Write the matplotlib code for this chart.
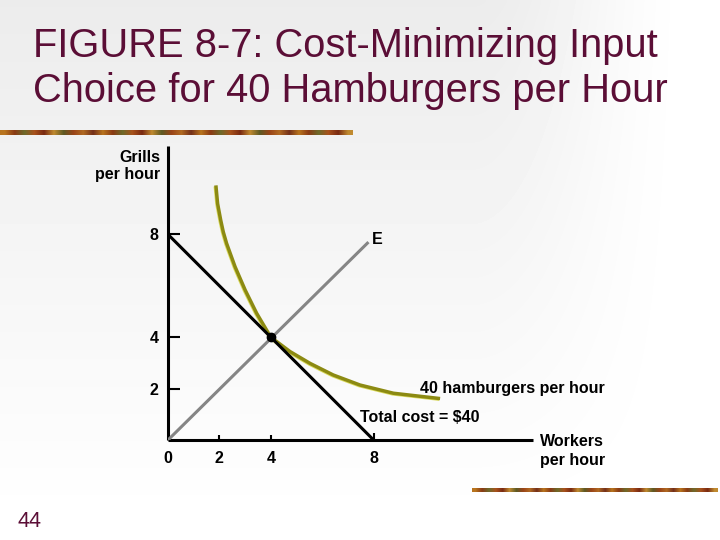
import numpy as np
import matplotlib
matplotlib.use("Agg")
import matplotlib.pyplot as plt
import matplotlib.transforms as mtransforms

plt.rcParams['font.family'] = ['Liberation Sans', 'DejaVu Sans']

# --- dados ---
titulo_linhas = ["FIGURE 8-7: Cost-Minimizing Input",
                 "Choice for 40 Hamburgers per Hour"]

# isoquanta de 40 hamburgers (trabalhadores, grelhas)
iso_x = [1.87, 1.93, 2.05, 2.15, 2.28, 2.61, 3.00, 3.45, 4.00, 4.75, 5.53, 6.43, 7.47, 8.77, 10.52]
iso_y = [9.84, 9.20, 8.56, 8.10, 7.65, 6.74, 5.84, 4.93, 4.00, 3.44, 2.98, 2.53, 2.14, 1.82, 1.62]

# reta de custo total = $40
custo_x = [0, 8]
custo_y = [8, 0]

# raio de expansao E
raio_x = [0, 7.8]
raio_y = [0, 7.7]

# ponto de minimo custo
ponto_x = [4]
ponto_y = [4]

y_ticks = [2, 4, 8]
x_ticks = [0, 2, 4, 8]

COR_TITULO = "#5b0e36"
COR_ISO = "#8c8a12"
COR_ISO_BRILHO = "#dada5c"
COR_RAIO = "#858585"
CORES_FAIXA = ["#b8741e", "#8a3a14", "#6e6a2a", "#a8521c", "#7a2a12",
               "#c08a30", "#5e5a24", "#9a4418", "#b06a22", "#74301a"]

fig = plt.figure(figsize=(7.2, 5.4), dpi=100)

# fundo em coordenadas de pixel
fundo = fig.add_axes([0, 0, 1, 1], zorder=0)
fundo.set_xlim(0, 720)
fundo.set_ylim(540, 0)
fundo.axis('off')

yy, xx = np.mgrid[0:540:4, 0:720:4]
ty = np.clip(yy / 520.0, 0, 1)
sx = np.clip((xx - 470) / 230.0, 0, 1)
tx = sx * sx * (3 - 2 * sx)
t = 1 - (1 - ty) * (1 - tx)
grad = 0.925 + 0.075 * t
fundo.imshow(grad, cmap='gray', vmin=0, vmax=1, extent=(0, 720, 540, 0),
             aspect='auto', interpolation='bilinear')


def faixa(x0, x1, y0, y1):
    n = 36
    cores = [CORES_FAIXA[i % len(CORES_FAIXA)] for i in range(n)]
    rgb = np.array([[matplotlib.colors.to_rgb(c) for c in cores]])
    fundo.imshow(rgb, extent=(x0, x1, y1, y0), aspect='auto',
                 interpolation='bilinear')


faixa(0, 353, 130, 135)
faixa(472, 718, 488, 492)

# titulo
fundo.text(33, 57, titulo_linhas[0], fontsize=28.7, color=COR_TITULO,
           va='baseline', ha='left')
fundo.text(33, 102, titulo_linhas[1], fontsize=28.7, color=COR_TITULO,
           va='baseline', ha='left')
fundo.text(18, 527, "44", fontsize=15.5, color=COR_TITULO,
           va='baseline', ha='left')

fs = 11.5
peso = 'bold'
fundo.text(160, 157, "Grills", fontsize=fs, fontweight=peso, ha='right', va='center')
fundo.text(160, 175, "per hour", fontsize=fs, fontweight=peso, ha='right', va='center')
fundo.text(377, 239, "E", fontsize=fs, fontweight=peso, ha='center', va='center')
fundo.text(420, 388, "40 hamburgers per hour", fontsize=fs, fontweight=peso,
           ha='left', va='center')
fundo.text(360, 418, "Total cost = $40", fontsize=fs, fontweight=peso,
           ha='left', va='center')
fundo.text(540, 442, "Workers", fontsize=fs, fontweight=peso, ha='left', va='center')
fundo.text(540, 461, "per hour", fontsize=fs, fontweight=peso, ha='left', va='center')

# grafico principal
escala = 25.7
ax = fig.add_axes([168 / 720, 100 / 540, 14.2 * escala / 720, 11.44 * escala / 540],
                  zorder=1)
ax.patch.set_alpha(0)
ax.set_xlim(0, 14.2)
ax.set_ylim(0, 11.44)
for lado in ['top', 'right']:
    ax.spines[lado].set_visible(False)
for lado in ['left', 'bottom']:
    ax.spines[lado].set_linewidth(2.2)
    ax.spines[lado].set_capstyle('butt')

ax.plot(raio_x, raio_y, color=COR_RAIO, lw=2.2, solid_capstyle='butt', zorder=3)
ax.plot(custo_x, custo_y, color='black', lw=2.2, solid_capstyle='butt', zorder=4)
brilho = mtransforms.offset_copy(ax.transData, fig=fig, x=-0.6, y=-0.6, units='points')
ax.plot(iso_x, iso_y, color=COR_ISO_BRILHO, lw=2.2, transform=brilho,
        solid_joinstyle='round', zorder=2)
ax.plot(iso_x, iso_y, color=COR_ISO, lw=2.5, solid_joinstyle='round', zorder=2.5)
ax.plot(ponto_x, ponto_y, 'o', color='black', ms=6, zorder=5)

ax.set_yticks(y_ticks)
ax.set_yticklabels([str(v) for v in y_ticks])
ax.set_xticks(x_ticks)
ax.set_xticklabels([str(v) for v in x_ticks])
ax.tick_params(axis='y', direction='in', length=8.6, width=1.5, pad=7,
               labelsize=fs)
ax.tick_params(axis='x', direction='in', length=3.6, width=1.5, pad=8,
               labelsize=fs)
for lbl in ax.get_xticklabels() + ax.get_yticklabels():
    lbl.set_fontweight(peso)
xt = ax.xaxis.get_major_ticks()
xt[0].tick1line.set_visible(False)
xt[1].tick1line.set_color(COR_TITULO)
xt[2].tick1line.set_color(COR_TITULO)
xt[3].tick1line.set_markersize(5)

fig.savefig("out.png", dpi=100)
plt.close(fig)
